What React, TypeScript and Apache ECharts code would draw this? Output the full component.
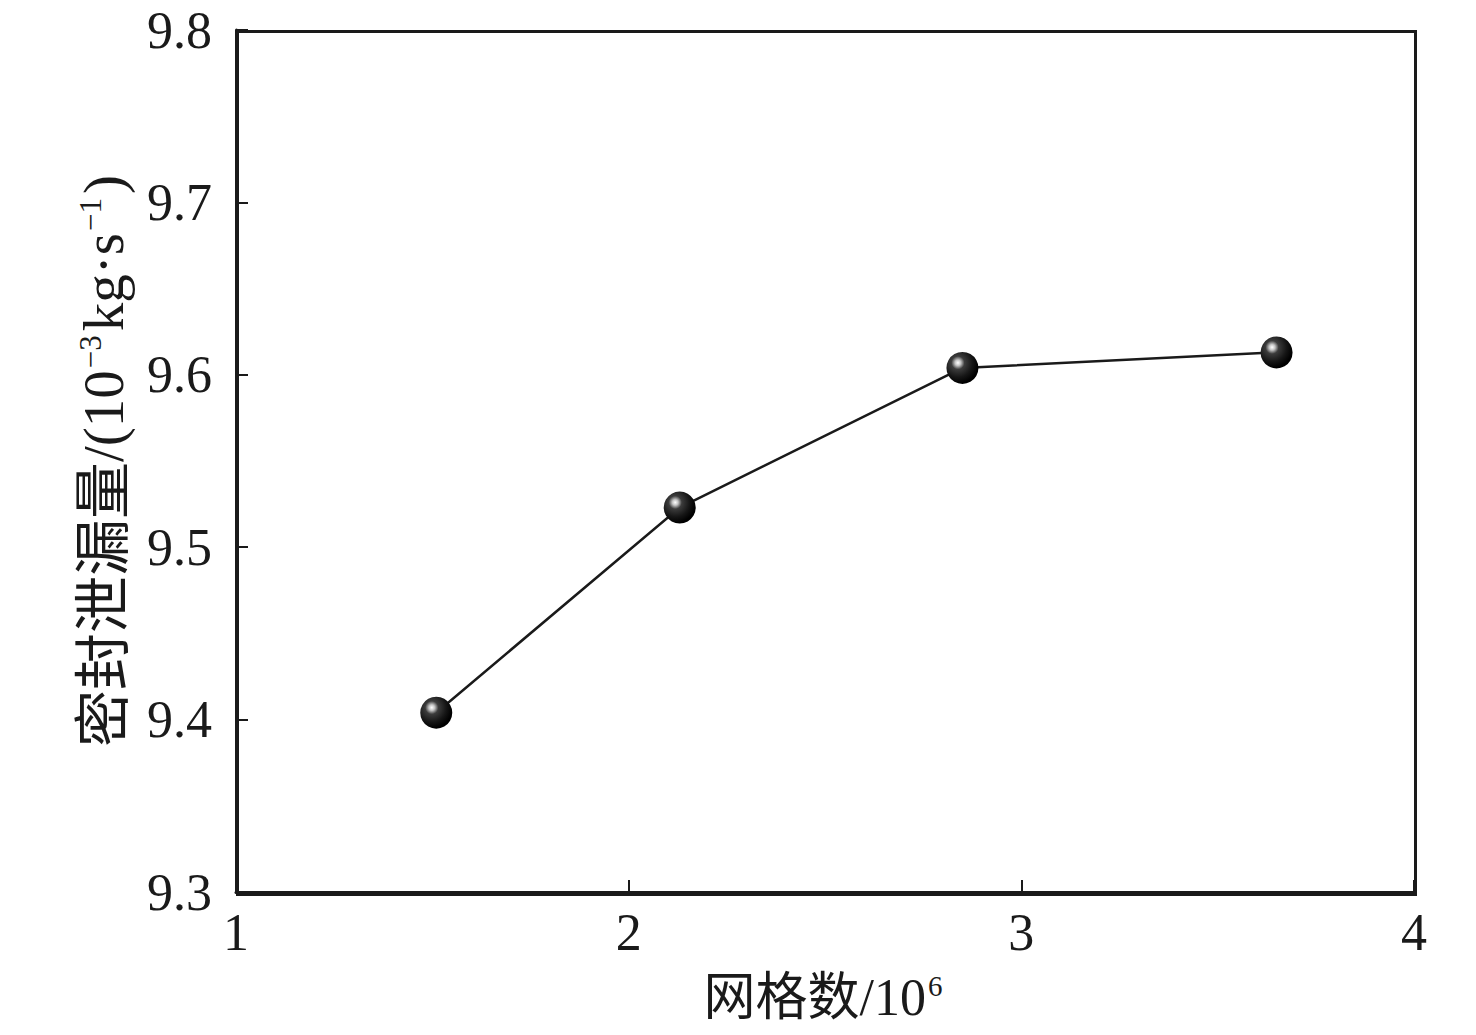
import { useEffect, useRef } from 'react';
import * as echarts from 'echarts';
import type { EChartsOption } from 'echarts';

// 网格数 (10^6) 与密封泄漏量 (10^-3 kg/s)
const gridCounts = [1.51, 2.13, 2.85, 3.65];
const leakRates = [9.404, 9.523, 9.604, 9.613];

const xTicks = [1, 2, 3, 4];
const yTicks = [9.3, 9.4, 9.5, 9.6, 9.7, 9.8];

const FONT = '"Liberation Serif", "Noto Sans CJK SC", serif';
const INK = '#1a1a1a';

const App = () => {
  const chartRef = useRef<HTMLDivElement>(null);

  useEffect(() => {
    if (!chartRef.current) return;
    const chart = echarts.init(chartRef.current, undefined, { renderer: 'svg' });

    const ball = new echarts.graphic.RadialGradient(0.36, 0.34, 0.64, [
      { offset: 0, color: '#ffffff' },
      { offset: 0.14, color: '#c4c4c4' },
      { offset: 0.32, color: '#3c3c3c' },
      { offset: 0.7, color: '#161616' },
      { offset: 1, color: '#000000' },
    ]);

    const titleRich = (size: number) => ({
      t: { fontFamily: FONT, fontSize: size, color: INK },
      sup: {
        fontFamily: FONT,
        fontSize: Math.round(size * 0.55),
        color: INK,
        verticalAlign: 'top' as const,
        padding: [0, 4, Math.round(size * 0.4), 2],
      },
    });

    const option: EChartsOption = {
      animation: false,
      backgroundColor: '#fff',
      grid: { left: 236, right: 62, top: 30, bottom: 143 },
      xAxis: {
        type: 'value',
        min: xTicks[0],
        max: xTicks[xTicks.length - 1],
        interval: 1,
        name: '{t|网格数/10}{sup|6}',
        nameLocation: 'middle',
        nameGap: 79,
        nameTextStyle: { rich: titleRich(52) },
        axisLine: { show: true, lineStyle: { color: INK, width: 3 } },
        axisTick: { show: true, inside: true, length: 12, lineStyle: { color: INK, width: 2 } },
        axisLabel: { fontFamily: FONT, fontSize: 52, color: INK, margin: 14 },
        splitLine: { show: false },
      },
      yAxis: {
        type: 'value',
        min: yTicks[0],
        max: yTicks[yTicks.length - 1],
        interval: 0.1,
        name: '{t|密封泄漏量/(10}{sup|−3}{t|kg·s}{sup|−1}{t|)}',
        nameLocation: 'middle',
        nameRotate: 90,
        nameGap: 104,
        nameTextStyle: { rich: titleRich(57) },
        axisLine: { show: true, lineStyle: { color: INK, width: 3 } },
        axisTick: { show: true, inside: true, length: 12, lineStyle: { color: INK, width: 2 } },
        axisLabel: {
          fontFamily: FONT,
          fontSize: 52,
          color: INK,
          margin: 24,
          formatter: (v: number) => v.toFixed(1),
        },
        splitLine: { show: false },
      },
      graphic: [
        {
          type: 'rect',
          left: 235,
          top: 29,
          shape: { width: 1178, height: 863 },
          style: { fill: 'none', stroke: INK, lineWidth: 3 },
          silent: true,
        },
      ],
      series: [
        {
          type: 'line',
          data: gridCounts.map((x, i) => [x, leakRates[i]]),
          symbol: 'circle',
          symbolSize: 32,
          showAllSymbol: true,
          lineStyle: { color: INK, width: 2.5 },
          itemStyle: { color: ball, borderWidth: 0 },
          z: 3,
        },
      ],
    };

    chart.setOption(option);

    return () => {
      chart.dispose();
    };
  }, []);

  return (
    <div
      ref={chartRef}
      style={{ position: 'fixed', left: 0, top: 0, width: 1476, height: 1035 }}
    />
  );
};

export default App;
